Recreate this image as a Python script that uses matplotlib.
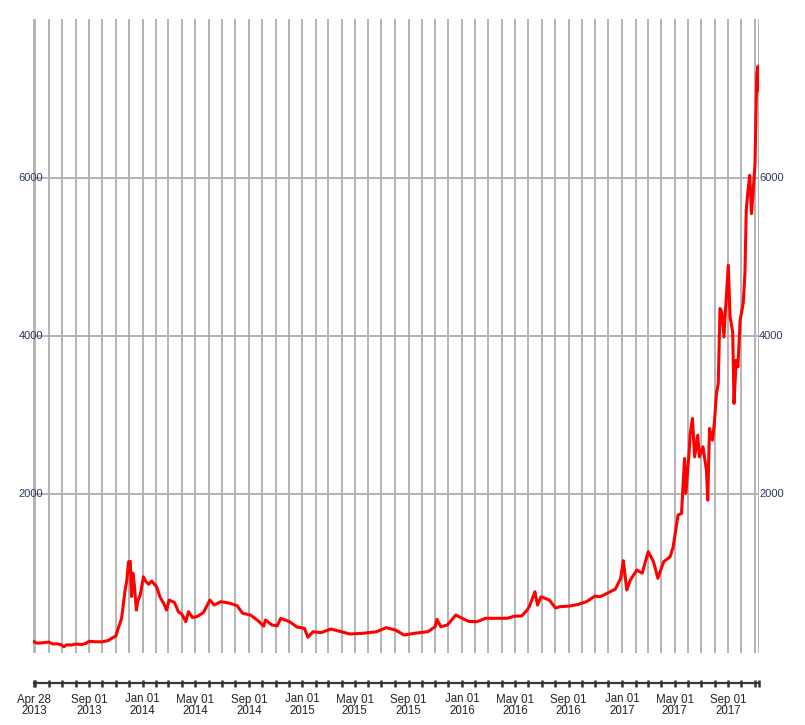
import numpy as np
import pandas as pd
import matplotlib
matplotlib.use("Agg")
import matplotlib.pyplot as plt
from matplotlib.transforms import blended_transform_factory

dates = [
    "2013-04-28", "2013-05-05", "2013-05-12", "2013-05-20", "2013-06-01", "2013-06-10",
    "2013-06-20", "2013-07-01", "2013-07-05", "2013-07-12", "2013-07-22", "2013-08-01",
    "2013-08-15", "2013-08-25", "2013-09-01", "2013-09-15", "2013-10-01", "2013-10-15",
    "2013-10-25", "2013-11-01", "2013-11-08", "2013-11-14", "2013-11-18", "2013-11-22",
    "2013-11-26", "2013-11-30", "2013-12-04", "2013-12-07", "2013-12-10", "2013-12-13",
    "2013-12-18", "2013-12-21", "2013-12-27", "2014-01-03", "2014-01-08", "2014-01-15",
    "2014-01-22", "2014-02-02", "2014-02-10", "2014-02-18", "2014-02-25", "2014-03-03",
    "2014-03-15", "2014-03-24", "2014-04-01", "2014-04-10", "2014-04-16", "2014-04-25",
    "2014-05-05", "2014-05-20", "2014-06-04", "2014-06-14", "2014-06-29", "2014-07-20",
    "2014-08-05", "2014-08-18", "2014-09-05", "2014-09-22", "2014-10-05", "2014-10-09",
    "2014-10-24", "2014-11-05", "2014-11-13", "2014-12-03", "2014-12-20", "2015-01-06",
    "2015-01-14", "2015-01-26", "2015-02-13", "2015-03-08", "2015-03-31", "2015-04-20",
    "2015-05-20", "2015-06-20", "2015-07-12", "2015-08-02", "2015-08-22", "2015-09-14",
    "2015-10-15", "2015-11-01", "2015-11-05", "2015-11-14", "2015-11-29", "2015-12-18",
    "2016-01-02", "2016-01-17", "2016-02-05", "2016-02-24", "2016-03-15", "2016-04-14",
    "2016-04-29", "2016-05-17", "2016-05-29", "2016-06-03", "2016-06-16", "2016-06-22",
    "2016-06-30", "2016-07-19", "2016-08-02", "2016-08-12", "2016-09-04", "2016-09-23",
    "2016-10-12", "2016-10-31", "2016-11-12", "2016-11-28", "2016-12-17", "2016-12-29",
    "2017-01-04", "2017-01-12", "2017-01-20", "2017-02-04", "2017-02-16", "2017-03-02",
    "2017-03-14", "2017-03-24", "2017-04-06", "2017-04-21", "2017-04-28", "2017-05-09",
    "2017-05-17", "2017-05-24", "2017-05-27", "2017-06-03", "2017-06-06", "2017-06-11",
    "2017-06-16", "2017-06-23", "2017-06-27", "2017-07-05", "2017-07-13", "2017-07-16",
    "2017-07-20", "2017-07-27", "2017-07-31", "2017-08-05", "2017-08-09", "2017-08-13",
    "2017-08-17", "2017-08-22", "2017-08-26", "2017-09-01", "2017-09-05", "2017-09-11",
    "2017-09-14", "2017-09-19", "2017-09-23", "2017-09-28", "2017-10-05", "2017-10-09",
    "2017-10-12", "2017-10-16", "2017-10-20", "2017-10-24", "2017-10-28", "2017-11-01",
    "2017-11-05", "2017-11-08", "2017-11-09",
]
prices = [
    134, 115, 117, 122, 129, 105,
    108, 90, 70, 95, 92, 104,
    98, 113, 139, 133, 132, 150,
    185, 205, 330, 420, 600, 780,
    900, 1144, 1150, 705, 1000, 870,
    534, 640, 730, 955, 900, 860,
    900, 829, 700, 622, 534, 660,
    630, 513, 480, 387, 513, 440,
    450, 500, 660, 597, 640, 619,
    590, 492, 471, 400, 330, 408,
    345, 335, 429, 387, 320, 303,
    190, 260, 248, 294, 260, 231,
    240, 260, 311, 282, 218, 240,
    260, 323, 417, 323, 345, 471,
    429, 390, 387, 430, 429, 430,
    455, 460, 534, 576, 765, 597,
    702, 660, 560, 576, 585, 605,
    640, 710, 702, 745, 800, 935,
    1157, 787, 913, 1040, 1000, 1271,
    1144, 935, 1144, 1207, 1334, 1734,
    1755, 2450, 2008, 2500, 2766, 2955,
    2470, 2744, 2470, 2597, 2302, 1923,
    2829, 2681, 2892, 3271, 3397, 4345,
    4300, 3986, 4365, 4892, 4239, 4050,
    3145, 3692, 3608, 4197, 4408, 4787,
    5586, 5839, 6028, 5544, 5839, 6176,
    7300, 7405, 7100,
]
y_ticks = [2000, 4000, 6000]

d = pd.to_datetime(dates)
start, end = d[0], d[-1]

# Step 2: figure and main panel (pixel layout of the original)
W, H = 805, 725
fig = plt.figure(figsize=(W / 100, H / 100), dpi=100)
pad = pd.Timedelta(days=2)
px_per_day = 0.4375
left_px = 34 - 2 * px_per_day
right_px = 758.5 + 2 * px_per_day
top_px, bottom_px = 19, 653
ax = fig.add_axes([left_px / W, 1 - bottom_px / H, (right_px - left_px) / W, (bottom_px - top_px) / H])
ax.set_xlim(start - pad, end + pad)
ax.set_ylim(-9, 8004)
ax.axis("off")

grid_col = "#b4b4b4"
month_lines = [start] + list(pd.date_range("2013-05-01", "2017-11-01", freq="MS")) + [end]
for m in month_lines:
    ax.axvline(m, color=grid_col, lw=1.4, zorder=1)
for v in y_ticks:
    ax.axhline(v, color=grid_col, lw=1.4, zorder=1)

ax.plot(d, prices, color="red", lw=2.2, zorder=3)

# Step 3: y labels on both sides
lab_col = "#2a3864"
font = "Liberation Sans"
tr_y = blended_transform_factory(fig.transFigure, ax.transData)
for v in y_ticks:
    ax.text(43 / W, v, str(v), transform=tr_y, ha="right", va="center",
            fontsize=8, color=lab_col, family=font)
    ax.text(759 / W, v, str(v), transform=tr_y, ha="left", va="center",
            fontsize=8, color=lab_col, family=font)

# Step 4: bottom time axis strip
tr_x = blended_transform_factory(ax.transData, fig.transFigure)
axis_y = 1 - 682.5 / H
ax.plot([start, end], [axis_y, axis_y], color="#3a3a3a", lw=1.6, transform=tr_x, clip_on=False)
for m in month_lines:
    ax.plot([m, m], [1 - 680 / H, 1 - 687 / H], color="#333333", lw=1.8,
            transform=tr_x, clip_on=False, solid_capstyle="butt")

label_dates = [start] + list(pd.date_range("2013-09-01", "2017-09-01", freq="4MS"))
for m in label_dates:
    ax.text(m, 1 - 699.5 / H, m.strftime("%b %d"), transform=tr_x, ha="center", va="center",
            fontsize=8.3, color="#222222", family=font)
    ax.text(m, 1 - 711.5 / H, m.strftime("%Y"), transform=tr_x, ha="center", va="center",
            fontsize=8.3, color="#222222", family=font)

plt.savefig("out.png", dpi=100)
